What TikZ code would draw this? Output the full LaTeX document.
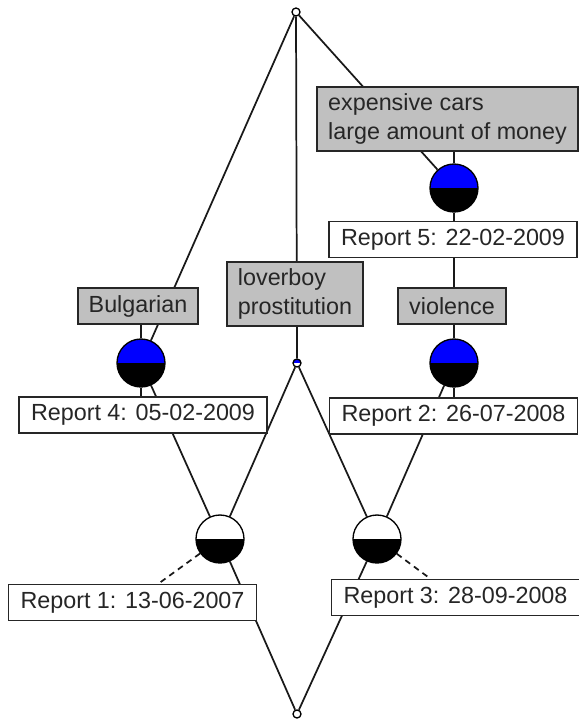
\documentclass[tikz,border=0pt]{standalone}
\usepackage{fontspec}
\setmainfont{Liberation Sans}
\usetikzlibrary{backgrounds}
\definecolor{attrgray}{RGB}{192,192,192}
\definecolor{nodeblue}{RGB}{0,0,255}
\begin{document}
\begin{tikzpicture}[x=0.75pt,y=-0.75pt,
  edge/.style={line width=1.3pt, black!90},
  lbl/.style={draw=black!85, line width=1.4pt, font=\fontsize{17.5}{21.75}\selectfont, text=black!85, inner xsep=8.25pt, inner ysep=0pt, minimum height=27pt},
  attrlbl/.style={lbl, fill=attrgray, align=left},
  objlbl/.style={lbl, fill=white, minimum width=186pt},
  bignode/.style 2 args={circle, draw=black, line width=1pt, minimum size=36pt, inner sep=0pt,
    path picture={\fill[#1] (path picture bounding box.north west) rectangle (path picture bounding box.east);
                  \fill[#2] (path picture bounding box.west) rectangle (path picture bounding box.south east);}},
  smallnode/.style={circle, draw=black, line width=1pt, fill=white, minimum size=6pt, inner sep=0pt}
]
\useasboundingbox (0,0) rectangle (579,719);

% concept nodes
\node[smallnode] (top) at (296,12) {};
\node[smallnode] (bot) at (297,714) {};
\node[smallnode, path picture={\fill[nodeblue] (path picture bounding box.north west) rectangle (path picture bounding box.east);}] (lov) at (297,363) {};
\node[bignode={nodeblue}{black}] (bul) at (141,363) {};
\node[bignode={nodeblue}{black}] (exp) at (454,188) {};
\node[bignode={nodeblue}{black}] (vio) at (454,363) {};
\node[bignode={white}{black}] (ra) at (220,539) {};
\node[bignode={white}{black}] (rc) at (377,539) {};

% labels
\node[attrlbl, minimum height=48pt] (expL) at (447.5,119) {expensive cars\\large amount of money};
\node[objlbl] (r5L) at (453,239.5) {Report 5: 22-02-2009};
\node[attrlbl] (bulL) at (138,306) {Bulgarian};
\node[attrlbl, minimum height=48pt] (lovL) at (295,294) {loverboy\\prostitution};
\node[attrlbl] (vioL) at (452,306) {violence};
\node[objlbl] (r4L) at (143,415) {Report 4: 05-02-2009};
\node[objlbl] (r2L) at (453.5,416) {Report 2: 26-07-2008};
\node[objlbl] (r1L) at (132.5,602.5) {Report 1: 13-06-2007};
\node[objlbl] (r3L) at (455.5,597.5) {Report 3: 28-09-2008};

\begin{scope}[on background layer]
  \fill[white] (0,0) rectangle (579,719);
  % lattice edges
  \draw[edge] (top) -- (bul);
  \draw[edge] (top) -- (lov);
  \draw[edge] (top) -- (exp);
  \draw[edge] (exp) -- (vio);
  \draw[edge] (bul) -- (ra);
  \draw[edge] (lov) -- (ra);
  \draw[edge] (lov) -- (rc);
  \draw[edge] (vio) -- (rc);
  \draw[edge] (ra) -- (bot);
  \draw[edge] (rc) -- (bot);
  % label connectors
  \draw[edge] (bul.north) -- (bul.north |- bulL.south);
  \draw[edge] (bul.south) -- (bul.south |- r4L.north);
  \draw[edge] (exp.north) -- (exp.north |- expL.south);
  \draw[edge] (exp.south) -- (exp.south |- r5L.north);
  \draw[edge] (lov.north) -- (lov.north |- lovL.south);
  \draw[edge] (vio.north) -- (vio.north |- vioL.south);
  \draw[edge] (vio.south) -- (vio.south |- r2L.north);
  \draw[edge, dashed, dash pattern=on 4.5pt off 3.5pt] (ra) -- (r1L);
  \draw[edge, dashed, dash pattern=on 4.5pt off 3.5pt] (rc) -- (r3L);
\end{scope}
\end{tikzpicture}
\end{document}
